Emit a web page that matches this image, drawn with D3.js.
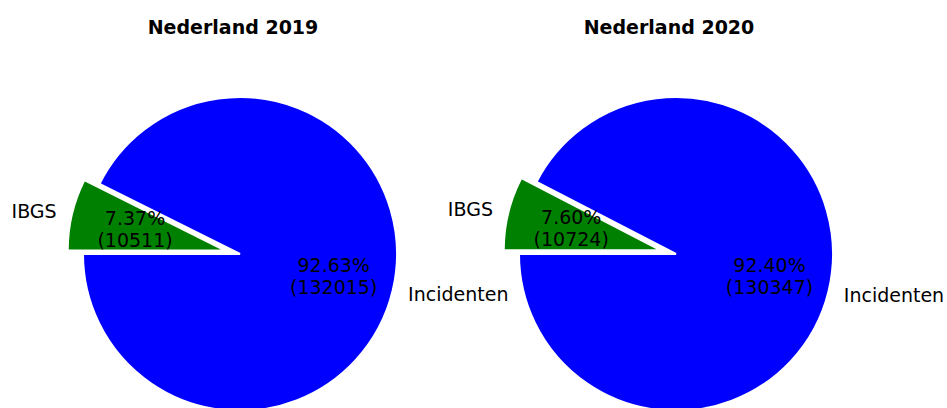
<!DOCTYPE html>
<html>
<head>
<meta charset="utf-8">
<script src="https://cdn.jsdelivr.net/npm/d3@7"></script>
<style>
  html, body { margin: 0; padding: 0; background: #fff; }
  svg { display: block; }
  text { font-family: "DejaVu Sans", sans-serif; fill: #000; }
</style>
</head>
<body>
<svg id="chart" width="947" height="408"></svg>
<script>
// ---- data ----
const titles = ["Nederland 2019", "Nederland 2020"];
const categories = ["IBGS", "Incidenten"];
const values2019 = [10511, 132015];
const values2020 = [10724, 130347];
const seriesValues = [values2019, values2020];
const colors = ["#008000", "#0000ff"];
const explode = [0.1, 0];

// ---- layout ----
const W = 947, H = 408;
const radius = 157;
const centersX = [240, 676];
const centerY = 254;
const fontSize = 19;

const svg = d3.select("#chart");

const pie = d3.pie()
  .sort(null)
  .startAngle(-Math.PI / 2)
  .endAngle(3 * Math.PI / 2)
  .value(d => d);

const arc = d3.arc().innerRadius(0).outerRadius(radius);

seriesValues.forEach((vals, pi) => {
  const cx = centersX[pi];
  const g = svg.append("g").attr("transform", `translate(${cx},${centerY})`);
  const total = d3.sum(vals);
  const arcs = pie(vals);

  // title
  svg.append("text")
    .attr("x", cx - 7)
    .attr("y", 34)
    .attr("text-anchor", "middle")
    .style("font-weight", "bold")
    .style("font-size", fontSize + "px")
    .text(titles[pi]);

  arcs.forEach((a, i) => {
    const mid = (a.startAngle + a.endAngle) / 2;
    const dx = Math.sin(mid), dy = -Math.cos(mid);
    const off = explode[i] * radius;
    const ox = dx * off, oy = dy * off;

    g.append("path")
      .attr("d", arc(a))
      .attr("transform", `translate(${ox},${oy})`)
      .attr("fill", colors[i])
      .attr("stroke", "#fff")
      .attr("stroke-width", 2)
      .attr("stroke-linejoin", "miter");
  });

  arcs.forEach((a, i) => {
    const mid = (a.startAngle + a.endAngle) / 2;
    const dx = Math.sin(mid), dy = -Math.cos(mid);
    const off = explode[i] * radius;
    const ox = dx * off, oy = dy * off;

    // category label at 1.1 r
    const lx = ox + dx * radius * 1.1;
    const ly = oy + dy * radius * 1.1;
    g.append("text")
      .attr("x", lx)
      .attr("y", ly)
      .attr("text-anchor", lx < 0 ? "end" : "start")
      .attr("dominant-baseline", "central")
      .style("font-size", fontSize + "px")
      .text(categories[i]);

    // percentage label at 0.6 r
    const px = ox + dx * radius * 0.6 + 2;
    const py = oy + dy * radius * 0.6;
    const pct = (vals[i] / total * 100).toFixed(2) + "%";
    const lines = [pct, "(" + vals[i] + ")"];
    const lh = fontSize * 1.17;
    lines.forEach((t, k) => {
      g.append("text")
        .attr("x", px)
        .attr("y", py + (k - 0.5) * lh)
        .attr("text-anchor", "middle")
        .attr("dominant-baseline", "central")
        .style("font-size", fontSize + "px")
        .text(t);
    });
  });
});
</script>
</body>
</html>
